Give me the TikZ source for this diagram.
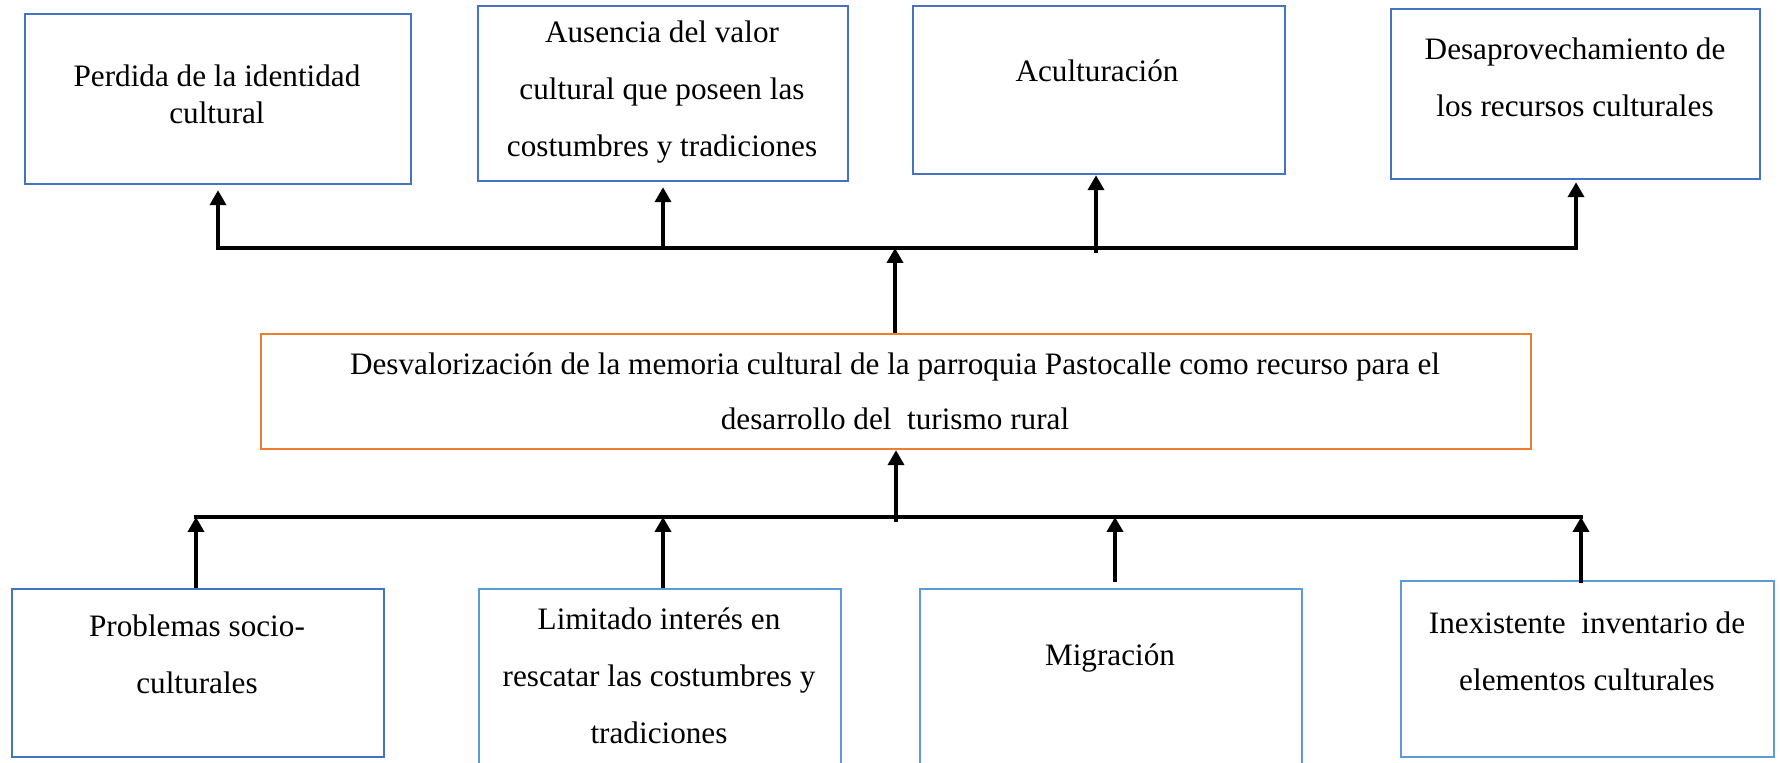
\documentclass[tikz,border=0pt]{standalone}
\usepackage{fontspec}
\setmainfont{Liberation Serif}
\usetikzlibrary{arrows.meta,calc}
\definecolor{boxblue}{HTML}{4472C4}
\definecolor{lightblue}{HTML}{5B9BD5}
\definecolor{boxorange}{HTML}{ED7D31}
\begin{document}
\begin{tikzpicture}[x=0.5pt,y=-0.5pt,
  box/.style={draw=boxblue,line width=1.1pt,inner sep=0pt,anchor=north west},
  lbox/.style={box,draw=lightblue},
  obox/.style={box,draw=boxorange},
  txt/.style={align=center,inner sep=0pt,font=\fontsize{15.6}{18.5}\selectfont},
  txtw/.style={align=center,inner sep=0pt,font=\fontsize{15.6}{28.5}\selectfont},
  conn/.style={line width=2pt,line cap=rect},
  arr/.style={line width=2pt,-{Triangle[length=7.5pt,width=8pt]}}]
\path[use as bounding box] (0,0) rectangle (1780,763);
\clip (0,0) rectangle (1780,763);
% top boxes
\node[box,minimum width=193pt,minimum height=85pt] (b1) at (24,13) {};
\node[box,minimum width=185pt,minimum height=87.5pt] (b2) at (477,5) {};
\node[box,minimum width=186pt,minimum height=84pt] (b3) at (912,5) {};
\node[box,minimum width=184.5pt,minimum height=85pt] (b4) at (1390,8) {};
\node[txt] (t1) at (217,94) {Perdida de la identidad\\cultural};
\node[txtw] (t2) at (662,92) {Ausencia del valor\\cultural que poseen las\\costumbres y tradiciones};
\node[txtw] (t3) at (1097,71) {Aculturación};
\node[txtw] (t4) at (1575,77) {Desaprovechamiento de\\los recursos culturales};
% central box
\node[obox,minimum width=635pt,minimum height=57.5pt] (c) at (260,333) {};
\node[align=center,inner sep=0pt,font=\fontsize{15.6}{27.5}\selectfont] (tc) at (895,391) {Desvalorización de la memoria cultural de la parroquia Pastocalle como recurso para el\\desarrollo del\ \ turismo rural};
% bottom boxes
\node[box,minimum width=186pt,minimum height=84pt] (b5) at (11,588) {};
\node[lbox,minimum width=181pt,minimum height=101pt] (b6) at (478,588) {};
\node[lbox,minimum width=191pt,minimum height=101pt] (b7) at (919,588) {};
\node[lbox,minimum width=186.5pt,minimum height=88pt] (b8) at (1400,580) {};
\node[txtw] (t5) at (197,654) {Problemas socio-\\culturales};
\node[txtw] (t6) at (659,676) {Limitado interés en\\rescatar las costumbres y\\tradiciones};
\node[txtw] (t7) at (1110,658) {Migración};
\node[txtw] (t8) at (1587,651) {Inexistente\ \ inventario de\\elementos culturales};
% junction coordinates
\coordinate (j1) at (218,248);
\coordinate (j2) at (663,248);
\coordinate (j3) at (1096,248);
\coordinate (j4) at (1576,248);
\coordinate (jc) at (895,248);
\coordinate (k1) at (196,517);
\coordinate (k2) at (663,517);
\coordinate (k3) at (1115,517);
\coordinate (k4) at (1581,517);
\coordinate (kc) at (896,517);
% top connectors
\draw[conn] (j1) -- (j4);
\draw[arr] (j1) -- ([yshift=-2.5pt]b1.south -| j1);
\draw[arr] (j2) -- ([yshift=-2.5pt]b2.south -| j2);
\draw[arr] ([yshift=-2.5pt]j3) -- (b3.south -| j3);
\draw[arr] (j4) -- ([yshift=-1pt]b4.south -| j4);
\draw[arr] (c.north -| jc) -- (jc);
% bottom connectors
\draw[conn] (k1) -- (k4);
\draw[arr] (b5.north -| k1) -- (k1);
\draw[arr] (b6.north -| k2) -- (k2);
\draw[arr] ([yshift=3pt]b7.north -| k3) -- (k3);
\draw[arr] ([yshift=-1.5pt]b8.north -| k4) -- (k4);
\draw[arr] ([yshift=-2.5pt]kc) -- (c.south -| kc);
\end{tikzpicture}
\end{document}
